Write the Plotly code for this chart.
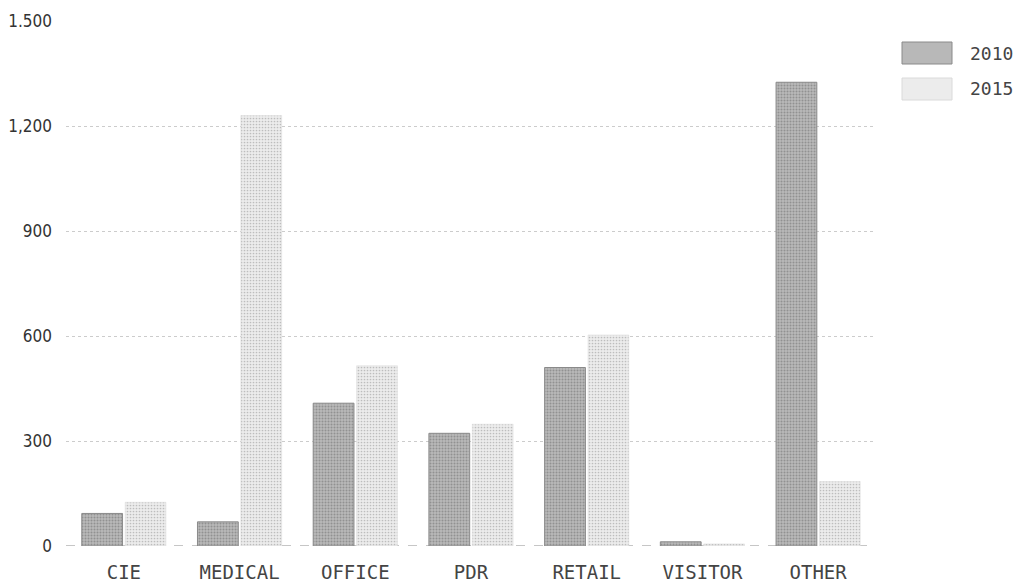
import plotly.graph_objects as go

categories = ["CIE", "MEDICAL", "OFFICE", "PDR", "RETAIL", "VISITOR", "OTHER"]
values_2010 = [93, 69, 408, 322, 510, 12, 1325]
values_2015 = [125, 1230, 515, 348, 603, 6, 184]
y_ticks = [0, 300, 600, 900, 1200, 1500]
y_tick_labels = ["0", "300", "600", "900", "1,200", "1.500"]
series_names = ["2010", "2015"]

MONO = "DejaVu Sans Mono, monospace"
NARROW = "DejaVu Sans Condensed, DejaVu Sans, sans-serif"

style_2010 = dict(
    color="#acacac",
    line=dict(color="#8a8a8a", width=1),
    pattern=dict(shape=".", fgcolor="#6a6a6a", bgcolor="#b8b8b8", size=3, solidity=0.35),
)
style_2015 = dict(
    color="#e0e0e0",
    line=dict(color="#dadada", width=0.5),
    pattern=dict(shape=".", fgcolor="#8e8e8e", bgcolor="#ececec", size=3, solidity=0.25),
)

fig = go.Figure()
fig.add_trace(go.Bar(x=categories, y=values_2010, name=series_names[0],
                     marker=style_2010, showlegend=False))
fig.add_trace(go.Bar(x=categories, y=values_2015, name=series_names[1],
                     marker=style_2015, showlegend=False))

# dashed baseline along zero
fig.add_shape(type="line", xref="paper", yref="y", x0=0, x1=1, y0=0, y1=0,
              line=dict(color="#8c8c8c", width=1, dash="dash"), layer="below")

# legend drawn by hand so the swatches can be wide
legend_rows = [(series_names[0], style_2010), (series_names[1], style_2015)]
for i, (label, st) in enumerate(legend_rows):
    yc = 53 + 36 * i
    fig.add_shape(type="rect", xref="paper", yref="paper",
                  x0=(902 - 66) / 810, x1=(952 - 66) / 810,
                  y0=(546 - (yc + 11)) / 525, y1=(546 - (yc - 11)) / 525,
                  fillcolor=st["pattern"]["bgcolor"],
                  line=dict(color=st["line"]["color"], width=1))
    fig.add_annotation(xref="paper", yref="paper",
                       x=(968 - 66) / 810, y=(546 - yc) / 525,
                       text=label, showarrow=False, xanchor="left", yanchor="middle",
                       font=dict(family=MONO, size=18, color="#444444"))

fig.update_layout(
    width=1020, height=587,
    margin=dict(l=66, r=144, t=21, b=41),
    paper_bgcolor="white", plot_bgcolor="white",
    barmode="group", bargap=0.25, bargroupgap=0.06,
    font=dict(family=NARROW, color="#333333"),
)
fig.update_xaxes(
    showgrid=False, showline=False, zeroline=False, ticks="",
    automargin=False, ticklabelstandoff=13,
    tickfont=dict(family=MONO, size=19, color="#444444"),
)
fig.update_yaxes(
    range=[0, 1500], tickvals=y_ticks, ticktext=y_tick_labels,
    showgrid=True, gridcolor="#cccccc", griddash="dot", gridwidth=1,
    zeroline=False, showline=False, ticks="", ticklabelstandoff=13,
    automargin=False,
    tickfont=dict(family=NARROW, size=17, color="#333333"),
)

fig.write_html("out.html")
